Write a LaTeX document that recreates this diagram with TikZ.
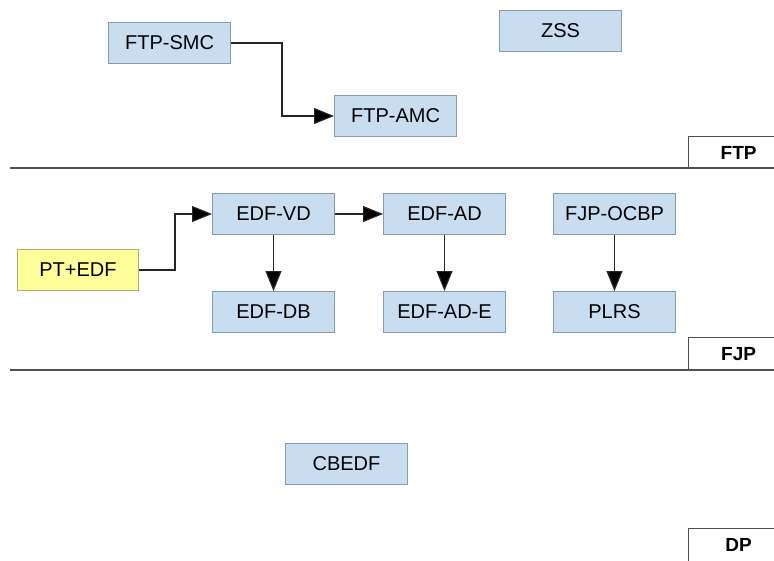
\documentclass[tikz,border=0pt]{standalone}
\usepackage{fontspec}
\setmainfont{Liberation Sans}
\usetikzlibrary{arrows.meta}
\definecolor{bfill}{RGB}{200,222,240}
\definecolor{bdraw}{RGB}{135,155,175}
\definecolor{yfill}{RGB}{255,255,153}
\definecolor{ydraw}{RGB}{175,175,120}
\definecolor{sep}{RGB}{80,80,80}
\begin{document}
\begin{tikzpicture}[x=1pt,y=-1pt,
  box/.style={draw=bdraw, fill=bfill, line width=1pt, minimum width=122pt, minimum height=41pt, anchor=north west, inner sep=0pt, font=\fontsize{20}{23}\selectfont},
  ybox/.style={box, draw=ydraw, fill=yfill},
  lane/.style={draw=sep, line width=1.2pt, anchor=north west, minimum width=100pt, minimum height=32pt, inner sep=0pt, text width=86pt, align=center, font=\fontsize{19}{22}\selectfont\bfseries},
  arr/.style={draw=black!85, line width=1.2pt, -{Triangle[length=20pt,width=16pt,fill=black]}}]
\useasboundingbox[fill=white] (0,0) rectangle (774,560);
% lanes
\draw[sep, line width=1.2pt] (10,168) -- (774,168);
\draw[sep, line width=1.2pt] (10,370) -- (774,370);
\node[lane] (ftp) at (688,136) {FTP};
\node[lane] (fjp) at (688,337) {FJP};
\node[lane, minimum height=44pt, text depth=12pt] (dp) at (688,528) {DP};
% FTP lane
\node[box] (smc) at (108,22) {FTP-SMC};
\node[box] (amc) at (334,95) {FTP-AMC};
\node[box] (zss) at (499,10) {ZSS};
% FJP lane
\node[ybox, minimum width=121pt] (pt) at (17,249) {PT+EDF};
\node[box] (vd) at (212,193) {EDF-VD};
\node[box] (db) at (212,291) {EDF-DB};
\node[box] (ad) at (383,193) {EDF-AD};
\node[box] (ade) at (383,291) {EDF-AD-E};
\node[box] (ocbp) at (553,193) {FJP-OCBP};
\node[box] (plrs) at (553,291) {PLRS};
% DP lane
\node[box] (cbedf) at (285,443) {CBEDF};
% connectors
\coordinate (k1) at (282,0);
\coordinate (k2) at (175,0);
\draw[arr] (smc.east) -| (k1 |- amc.west) -- (amc.west);
\draw[arr] (pt.east) -| (k2 |- vd.west) -- (vd.west);
\draw[arr] (vd.east) -- (ad.west);
\draw[arr] (vd.south) -- (db.north);
\draw[arr] (ad.south) -- (ade.north);
\draw[arr] (ocbp.south) -- (plrs.north);
\end{tikzpicture}
\end{document}
